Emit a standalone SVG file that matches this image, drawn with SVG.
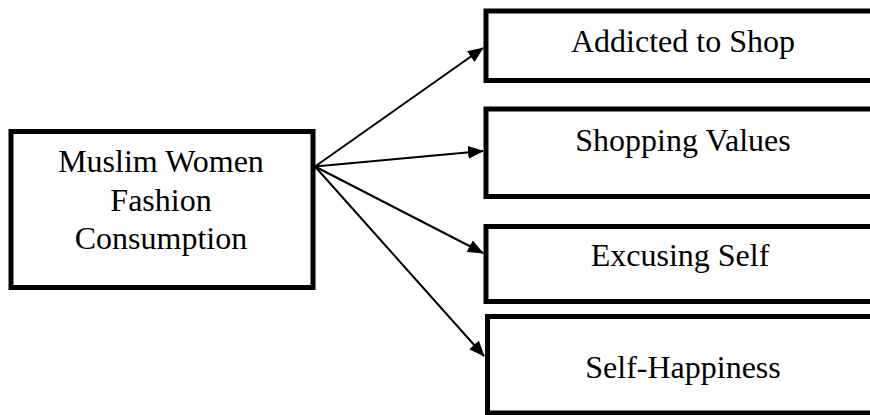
<svg xmlns="http://www.w3.org/2000/svg" width="870" height="415" viewBox="0 0 870 415">
<style>
.box{fill:#fff;stroke:#000;stroke-width:5}
.lbl{font-family:"Liberation Serif","Times New Roman",serif;font-size:32px;fill:#000;text-anchor:middle}
.con{stroke:#000;stroke-width:2;fill:none;marker-end:url(#ah)}
</style>
<defs>
<marker id="ah" markerUnits="userSpaceOnUse" markerWidth="16" markerHeight="13" refX="15" refY="6.5" orient="auto">
<path d="M0,0 L16,6.5 L0,13 z" fill="#000"/>
</marker>
</defs>
<rect width="870" height="415" fill="#fff"/>
<g id="connectors">
<line class="con" x1="315" y1="166.5" x2="483" y2="48"/>
<line class="con" x1="315" y1="166.5" x2="483" y2="151"/>
<line class="con" x1="315" y1="166.5" x2="483" y2="253"/>
<line class="con" x1="315" y1="166.5" x2="484" y2="356"/>
</g>
<g id="muslim-women">
<rect class="box" x="11" y="131.5" width="302" height="156"/>
<text class="lbl" x="161" y="172">Muslim Women</text>
<text class="lbl" x="161" y="210.5">Fashion</text>
<text class="lbl" x="161" y="249">Consumption</text>
</g>
<g id="addicted">
<rect class="box" x="486" y="11" width="396" height="69.5"/>
<text class="lbl" x="683" y="52">Addicted to Shop</text>
</g>
<g id="shopping-values">
<rect class="box" x="486" y="109" width="396" height="87.5"/>
<text class="lbl" x="683" y="151">Shopping Values</text>
</g>
<g id="excusing-self">
<rect class="box" x="486" y="226.5" width="396" height="75"/>
<text class="lbl" x="680" y="266">Excusing Self</text>
</g>
<g id="self-happiness">
<rect class="box" x="487.5" y="316.5" width="396" height="96.5"/>
<text class="lbl" x="683" y="378">Self-Happiness</text>
</g>
</svg>
